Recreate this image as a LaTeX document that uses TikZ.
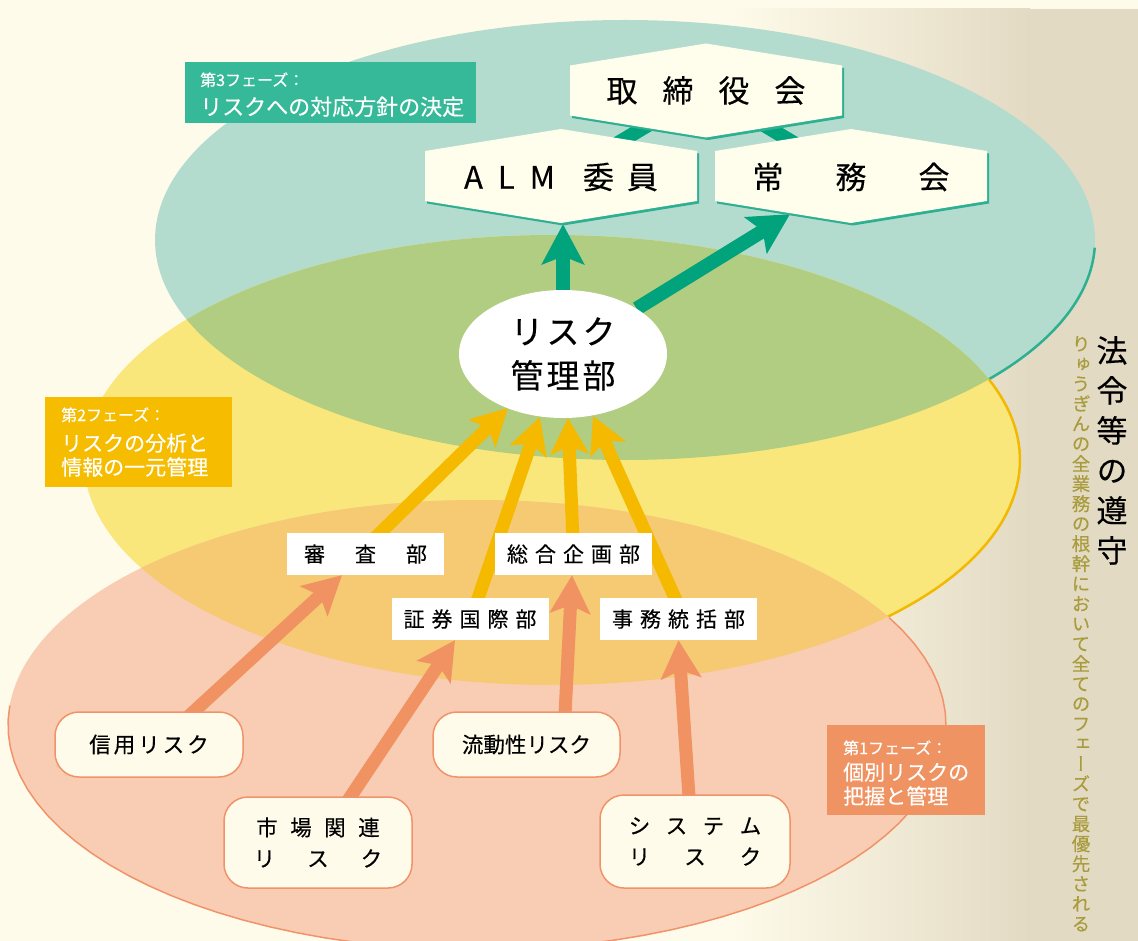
\documentclass[tikz,border=0pt]{standalone}
\usepackage{fontspec}
\setmainfont[FakeBold=0.3]{Noto Sans CJK JP}
\newfontfamily\vertfont[RawFeature=+vert,FakeBold=0.3]{Noto Sans CJK JP}
\usetikzlibrary{shapes.geometric,arrows.meta,calc}
\pgfdeclarelayer{bglayer}
\pgfdeclarelayer{midlayer}
\pgfsetlayers{bglayer,midlayer,main}
\definecolor{cream}{HTML}{FEFBEA}
\definecolor{beige}{HTML}{E3DAC3}
\definecolor{tealfill}{HTML}{B4DCCE}
\definecolor{tealline}{HTML}{2DAF91}
\definecolor{yelfill}{HTML}{FAE77B}
\definecolor{yelline}{HTML}{F3B800}
\definecolor{greenov}{HTML}{B1CD81}
\definecolor{salfill}{HTML}{F9CDB3}
\definecolor{salline}{HTML}{F0936A}
\definecolor{orov}{HTML}{F5CA73}
\definecolor{tealarr}{HTML}{00A37B}
\definecolor{yelarr}{HTML}{F5BA00}
\definecolor{orarr}{HTML}{F09262}
\definecolor{phthree}{HTML}{36B999}
\definecolor{phtwo}{HTML}{F5BC00}
\definecolor{phone}{HTML}{F09362}
\definecolor{olivetxt}{HTML}{A89C3E}
\definecolor{hexcream}{HTML}{FFFDEB}
\newcommand\hexat[2]{%
  \fill[tealline,shift={(#1+2,#2+2.5)}] (-136,-25) -- (0,-47) -- (136,-25) -- (136,25) -- (0,47) -- (-136,25) -- cycle;
  \fill[hexcream,shift={(#1,#2)}] (-136,-25) -- (0,-47) -- (136,-25) -- (136,25) -- (0,47) -- (-136,25) -- cycle;}
\tikzset{
 hexlabel/.style={minimum width=272pt, minimum height=94pt, inner sep=0pt, font=\fontsize{31}{36}\selectfont},
 riskell/.style={ellipse, fill=white, minimum width=208pt, minimum height=128pt, inner sep=0pt, align=center, font=\fontsize{33}{44}\selectfont},
 dept/.style={fill=white, minimum width=157pt, minimum height=42pt, inner sep=0pt, font=\fontsize{21}{24}\selectfont},
 riskbox/.style={fill=cream, draw=salline, line width=1.5pt, rounded corners=24pt, inner sep=0pt, align=center, font=\fontsize{21.5}{31}\selectfont},
 tealarrow/.style={draw=tealarr, line width=14pt, -{Stealth[length=40pt,width=42pt,inset=8pt]}},
 yelarrow/.style={draw=yelarr, line width=13pt, -{Stealth[length=36pt,width=38pt,inset=8pt]}},
 orarrow/.style={draw=orarr, line width=13pt, -{Stealth[length=38pt,width=40pt,inset=8pt]}},
 tealbar/.style={draw=tealarr, line width=14pt},
 phbox/.style={anchor=north west, inner sep=0pt},
 phsmall/.style={text=white, inner sep=0pt, anchor=base west, font=\fontsize{16}{18}\selectfont},
 phlarge/.style={text=white, inner sep=0pt, anchor=base west, font=\fontsize{21}{24}\selectfont},
}
\begin{document}
\begin{tikzpicture}[x=1pt,y=-1pt]
\useasboundingbox (0,0) rectangle (1138,941);
\begin{pgfonlayer}{bglayer}
\fill[cream] (0,0) rectangle (1138,941);
\shade[left color=cream,right color=beige] (730,9) rectangle (1030,941);
\fill[beige] (1029,9) rectangle (1138,941);
\fill[tealfill] (625,240) ellipse [x radius=470pt, y radius=220pt];
\draw[tealline,line width=2.5pt] plot[domain=2:60,samples=50,variable=\t] ({625+470*cos(\t)},{240+220*sin(\t)});
\fill[yelfill] (552,460) ellipse [x radius=468pt, y radius=225pt];
\draw[yelline,line width=2.5pt] plot[domain=-21:70,samples=50,variable=\t] ({552+468*cos(\t)},{460+225*sin(\t)});
\begin{scope}
\clip (625,240) ellipse [x radius=470pt, y radius=220pt];
\fill[greenov] (552,460) ellipse [x radius=468pt, y radius=225pt];
\end{scope}
\fill[salfill] (477,725) ellipse [x radius=469pt, y radius=225pt];
\draw[salline,line width=1.5pt] plot[domain=-28.5:185,samples=60,variable=\t] ({477+469*cos(\t)},{725+225*sin(\t)});
\begin{scope}
\clip (552,460) ellipse [x radius=468pt, y radius=225pt];
\fill[orov] (477,725) ellipse [x radius=469pt, y radius=225pt];
\end{scope}
\end{pgfonlayer}

% phase labels
\node[phbox, fill=phthree, minimum width=291pt, minimum height=61pt] (p3box) at (185,62) {};
\node[phsmall] (p3a) at (200,86) {第3フェーズ：};
\node[phlarge, font=\fontsize{22}{24}\selectfont] (p3b) at (200,115) {リスクへの対応方針の決定};
\node[phbox, fill=phtwo, minimum width=187pt, minimum height=90pt] (p2box) at (45,397) {};
\node[phsmall] (p2a) at (61,421) {第2フェーズ：};
\node[phlarge] (p2b) at (61,451) {リスクの分析と};
\node[phlarge] (p2c) at (61,475) {情報の一元管理};
\node[phbox, fill=phone, minimum width=158pt, minimum height=90pt] (p1box) at (827,725) {};
\node[phsmall] (p1a) at (843,754) {第1フェーズ：};
\node[phlarge] (p1b) at (843,780) {個別リスクの};
\node[phlarge] (p1c) at (843,804) {把握と管理};

% hexagons
\hexat{706}{90.5}
\node[hexlabel] (board) at (706,90.5) {取\hspace{25pt}締\hspace{25pt}役\hspace{25pt}会};
\hexat{561}{176}
\node[hexlabel] (alm) at (561,177) {A\hspace{15pt}L\hspace{15pt}M\hspace{28pt}委\hspace{13pt}員};
\hexat{851}{176}
\node[hexlabel] (jomu) at (851,177) {常\hspace{52pt}務\hspace{52pt}会};

% risk management
\node[riskell] (risk) at (563,354) {リ\hspace{3pt}ス\hspace{3pt}ク\\管\hspace{3pt}理\hspace{3pt}部};

% departments
\node[dept] (shinsa) at (365.5,554) {審\hspace{30pt}査\hspace{30pt}部};
\node[dept] (sogo) at (573.5,554) {総\hspace{7pt}合\hspace{7pt}企\hspace{7pt}画\hspace{7pt}部};
\node[dept] (shoken) at (470,619) {証\hspace{7pt}券\hspace{7pt}国\hspace{7pt}際\hspace{7pt}部};
\node[dept] (jimu) at (678.5,619) {事\hspace{7pt}務\hspace{7pt}統\hspace{7pt}括\hspace{7pt}部};

% risks
\node[riskbox, minimum width=188pt, minimum height=65pt] (shinyo) at (149,744.5) {信\hspace{3pt}用\hspace{3pt}リ\hspace{3pt}ス\hspace{3pt}ク};
\node[riskbox, minimum width=187pt, minimum height=65pt] (ryudo) at (526.5,744.5) {流動性リスク};
\node[riskbox, minimum width=188pt, minimum height=91pt] (shijo) at (318,842.5) {市\hspace{12.5pt}場\hspace{12.5pt}関\hspace{12.5pt}連\\リ\hspace{32pt}ス\hspace{32pt}ク};
\node[riskbox, minimum width=190pt, minimum height=93pt] (system) at (695,841.5) {シ\hspace{15.5pt}ス\hspace{15.5pt}テ\hspace{15.5pt}ム\\リ\hspace{34pt}ス\hspace{34pt}ク};

% vertical texts
\node[anchor=north, inner sep=0pt, align=center, font=\vertfont\fontsize{31}{40}\selectfont] (law) at (1112,336) {法\\令\\等\\の\\遵\\守};
\node[anchor=north, inner sep=0pt, align=center, text=olivetxt, font=\vertfont\fontsize{18.5}{20}\selectfont] (ryugin) at (1081,336) {り\\ゅ\\う\\ぎ\\ん\\の\\全\\業\\務\\の\\根\\幹\\に\\お\\い\\て\\全\\て\\の\\フ\\ェ\\ー\\ズ\\で\\最\\優\\先\\さ\\れ\\る};

% connectors
\begin{pgfonlayer}{midlayer}
\draw[tealbar] (alm.center) -- (board.center);
\draw[tealbar] (jomu.center) -- (board.center);
\draw[tealarrow] (risk) -- ($(alm.south)+(2,0)$);
\draw[tealarrow] (risk) -- ($(jomu.south)+(-61,-10)$);
\draw[yelarrow] ($(shinsa.center)+(-7,0)$) -- ($(risk.center)+(-55,54)$);
\draw[yelarrow] ($(shoken.center)+(1,0)$) -- ($(risk.center)+(-23,63)$);
\draw[yelarrow] (sogo.center) -- ($(risk.center)+(5,64)$);
\draw[yelarrow] ($(jimu.center)+(6,0)$) -- ($(risk.center)+(30,62)$);
\draw[orarrow] ($(shinyo.center)+(9,0)$) -- ($(shinsa.south)+(-23.5,0)$);
\draw[orarrow] ($(shijo.center)+(2,0)$) -- ($(shoken.south)+(-15,0)$);
\draw[orarrow] ($(ryudo.center)+(37,0)$) -- ($(sogo.south)+(-1.5,0)$);
\draw[orarrow] ($(system.center)+(-3,0)$) -- (jimu.south);
\end{pgfonlayer}
\end{tikzpicture}
\end{document}
